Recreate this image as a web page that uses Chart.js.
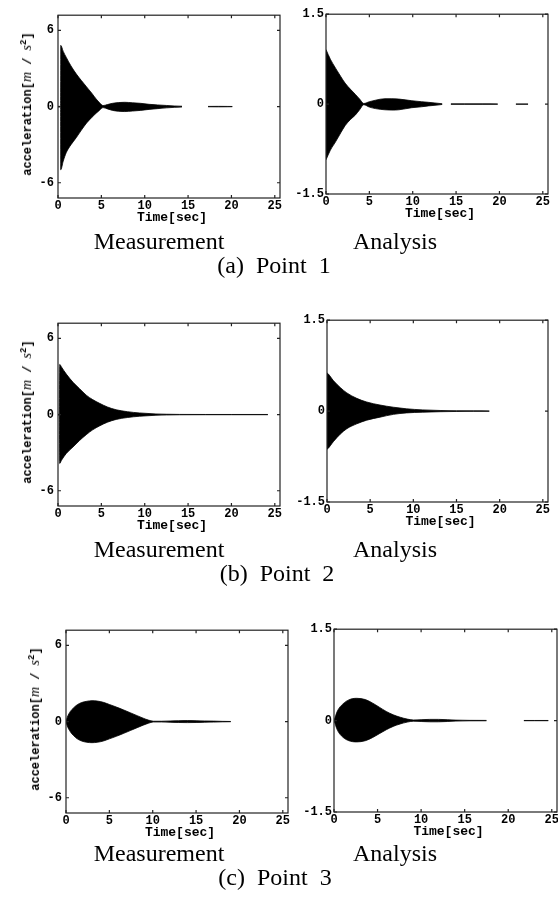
<!DOCTYPE html>
<html lang="en">
<head>
<meta charset="UTF-8">
<title>Acceleration response - Measurement / Analysis</title>
<script src="https://cdn.jsdelivr.net/npm/chart.js"></script>
<style>
  html, body { margin: 0; padding: 0; background: #fff; overflow: hidden; }
  body { width: 558px; height: 897px; position: relative; }
  canvas { position: absolute; }
  .lbl { position: absolute; white-space: pre; transform: translate(-50%, -50%); color: #000; line-height: 1; }
  .cap { font-family: "Liberation Serif", serif; font-size: 24px; }
  .time { font-family: "Liberation Mono", monospace; font-weight: bold; font-size: 13px; }
  .ytitle { font-family: "Liberation Mono", monospace; font-weight: bold; font-size: 12px;
            transform: translate(-50%, -50%) rotate(-90deg); }
  .ytitle i { font-family: "Liberation Serif", serif; font-size: 14px; font-weight: normal; }
  .ytitle sup { font-size: 9px; }
</style>
</head>
<body>
<script>
// tick labels
const xTicks = [0, 5, 10, 15, 20, 25];
const measTicks = [-6, 0, 6];
const anaTicks = [-1.5, 0, 1.5];
const captions = ['(a)  Point  1', '(b)  Point  2', '(c)  Point  3'];

// envelopes of the acceleration records [m/s2]
const p1MeasTime  = [0, 0.3, 0.32, 0.6, 0.96, 1.5, 2.1, 2.7, 3.3, 3.9, 4.4, 4.8, 5.2, 5.7, 6.3, 7.0, 7.7, 8.6, 9.5, 10.5, 11.5, 12.5, 13.4, 14.3, 15.8, 17.3, 18.5, 19.5, 20.1];
const p1MeasUpper = [0.02, 0.02, 4.82, 4.35, 3.87, 3.2, 2.58, 2.05, 1.55, 1.05, 0.6, 0.3, 0.08, 0.16, 0.26, 0.32, 0.34, 0.3, 0.26, 0.18, 0.13, 0.09, 0.05, 0.03, null, 0.015, 0.02, 0.015, 0.01];
const p1MeasLower = [-0.02, -0.02, -4.97, -4.3, -3.61, -3.0, -2.45, -1.85, -1.29, -0.85, -0.52, -0.28, -0.08, -0.18, -0.3, -0.37, -0.39, -0.35, -0.3, -0.22, -0.16, -0.1, -0.06, -0.03, null, -0.015, -0.02, -0.015, -0.01];

const p1AnaTime  = [0, 0.5, 1.1, 1.7, 2.2, 2.8, 3.4, 3.9, 4.35, 5.0, 5.7, 6.8, 7.6, 8.4, 9.9, 11.0, 11.8, 12.8, 13.4, 13.9, 14.4, 16.0, 18.0, 19.8, 20.8, 21.9, 23.3];
const p1AnaUpper = [0.91, 0.75, 0.6, 0.46, 0.35, 0.25, 0.16, 0.08, 0.01, 0.04, 0.065, 0.09, 0.09, 0.084, 0.056, 0.04, 0.03, 0.015, 0.006, null, 0.004, 0.004, 0.004, 0.003, null, 0.002, 0.002];
const p1AnaLower = [-0.93, -0.77, -0.63, -0.48, -0.36, -0.26, -0.18, -0.09, -0.01, -0.05, -0.075, -0.095, -0.1, -0.095, -0.06, -0.045, -0.03, -0.017, -0.006, null, -0.004, -0.004, -0.004, -0.003, null, -0.002, -0.002];

const p2MeasTime  = [0, 0.15, 0.2, 0.4, 0.96, 1.73, 2.49, 3.26, 4.0, 4.79, 5.7, 6.71, 8.0, 9.39, 11.3, 12.5, 14.0, 17.0, 20.0, 24.2];
const p2MeasUpper = [0.02, 0.02, 3.95, 3.75, 3.19, 2.55, 2.04, 1.53, 1.18, 0.89, 0.6, 0.38, 0.23, 0.13, 0.05, 0.03, 0.015, 0.01, 0.01, 0.01];
const p2MeasLower = [-0.02, -0.02, -3.85, -3.6, -3.06, -2.55, -2.04, -1.58, -1.2, -0.89, -0.6, -0.38, -0.23, -0.13, -0.05, -0.03, -0.015, -0.01, -0.01, -0.01];

const p2AnaTime  = [0, 0.1, 0.76, 1.53, 2.3, 3.45, 4.6, 6.14, 7.7, 9.2, 11.1, 13.1, 15.0, 17.0, 18.8];
const p2AnaUpper = [0.63, 0.62, 0.5, 0.39, 0.3, 0.21, 0.15, 0.1, 0.064, 0.038, 0.02, 0.01, 0.006, 0.004, 0.003];
const p2AnaLower = [-0.63, -0.62, -0.5, -0.38, -0.29, -0.21, -0.15, -0.1, -0.054, -0.03, -0.018, -0.01, -0.006, -0.004, -0.003];

const p3MeasTime  = [0, 0.15, 0.5, 0.9, 1.3, 1.8, 2.4, 3.0, 3.6, 4.3, 5.0, 5.8, 6.6, 7.4, 8.2, 8.9, 9.5, 10.1, 11.0, 12.0, 13.0, 14.0, 15.0, 16.0, 17.0, 18.0, 19.0];
const p3MeasUpper = [0, 0.35, 0.8, 1.1, 1.33, 1.5, 1.6, 1.65, 1.62, 1.52, 1.35, 1.15, 0.93, 0.7, 0.47, 0.27, 0.12, 0.03, 0.03, 0.05, 0.07, 0.08, 0.07, 0.05, 0.04, 0.02, 0.01];
const p3MeasLower = [0, -0.35, -0.8, -1.12, -1.36, -1.53, -1.63, -1.66, -1.63, -1.53, -1.36, -1.16, -0.94, -0.71, -0.48, -0.28, -0.13, -0.03, -0.03, -0.05, -0.07, -0.08, -0.07, -0.05, -0.04, -0.02, -0.01];

const p3AnaTime  = [0, 0.4, 1.0, 1.7, 2.6, 3.6, 4.4, 5.2, 6.0, 6.8, 7.6, 8.4, 9.1, 10.0, 11.0, 12.0, 13.0, 14.0, 15.5, 17.5, 19.5, 21.8, 23.0, 24.6];
const p3AnaUpper = [0, 0.16, 0.27, 0.34, 0.366, 0.345, 0.29, 0.22, 0.15, 0.095, 0.055, 0.025, 0.01, 0.015, 0.02, 0.02, 0.015, 0.008, 0.004, 0.003, null, 0.002, 0.002, 0.002];
const p3AnaLower = [0, -0.16, -0.27, -0.33, -0.35, -0.33, -0.28, -0.215, -0.15, -0.095, -0.055, -0.025, -0.01, -0.015, -0.02, -0.02, -0.015, -0.008, -0.004, -0.003, null, -0.002, -0.002, -0.002];

const AXIS_W = 45, PAD_T = 8, PAD_R = 12, AXIS_H = 15;
const tickFont = { family: 'Liberation Mono', size: 12, weight: 'bold' };

// closed frame with small inward ticks on every side
const framePlugin = {
  id: 'frame',
  afterDatasetsDraw(chart) {
    const { ctx, chartArea: a, scales } = chart;
    ctx.save();
    ctx.strokeStyle = '#222';
    ctx.lineWidth = 1.2;
    ctx.strokeRect(a.left, a.top, a.right - a.left, a.bottom - a.top);
    ctx.beginPath();
    scales.x.ticks.forEach(tk => {
      const px = scales.x.getPixelForValue(tk.value);
      ctx.moveTo(px, a.bottom); ctx.lineTo(px, a.bottom - 3);
      ctx.moveTo(px, a.top); ctx.lineTo(px, a.top + 3);
    });
    scales.y.ticks.forEach(tk => {
      const py = scales.y.getPixelForValue(tk.value);
      ctx.moveTo(a.left, py); ctx.lineTo(a.left + 3, py);
      ctx.moveTo(a.right, py); ctx.lineTo(a.right - 3, py);
    });
    ctx.stroke();
    ctx.restore();
  }
};

function addLabel(html, cls, x, y) {
  const d = document.createElement('div');
  d.className = 'lbl ' + cls;
  d.innerHTML = html;
  d.style.left = x + 'px';
  d.style.top = y + 'px';
  document.body.appendChild(d);
}

function drawPanel(box, time, upper, lower, yMax, yTicks, yPad) {
  const cv = document.createElement('canvas');
  cv.width = AXIS_W + box.w + PAD_R;
  cv.height = PAD_T + box.h + AXIS_H;
  cv.style.left = (box.x - AXIS_W) + 'px';
  cv.style.top = (box.y - PAD_T) + 'px';
  document.body.appendChild(cv);

  const up = time.map((t, i) => ({ x: t, y: upper[i] }));
  const lo = time.map((t, i) => ({ x: t, y: lower[i] }));

  new Chart(cv, {
    type: 'line',
    data: {
      datasets: [
        { data: up, borderColor: '#000', borderWidth: 0.8, pointRadius: 0, fill: false },
        { data: lo, borderColor: '#000', borderWidth: 0.8, pointRadius: 0, fill: '-1', backgroundColor: '#000' }
      ]
    },
    options: {
      responsive: false,
      animation: false,
      devicePixelRatio: 1,
      layout: { padding: { top: PAD_T, right: PAD_R, left: 0, bottom: 0 } },
      plugins: { legend: { display: false }, tooltip: { enabled: false } },
      elements: { line: { cubicInterpolationMode: 'monotone' } },
      scales: {
        x: {
          type: 'linear', min: 0, max: 25.6,
          grid: { display: false, drawTicks: false },
          border: { display: false },
          afterBuildTicks: s => { s.ticks = xTicks.map(v => ({ value: v })); },
          afterFit: s => { s.height = AXIS_H; },
          ticks: { padding: 1, color: '#000', font: tickFont, maxRotation: 0, autoSkip: false, callback: v => String(v) }
        },
        y: {
          type: 'linear', min: -yMax, max: yMax,
          grid: { display: false, drawTicks: false },
          border: { display: false },
          afterBuildTicks: s => { s.ticks = yTicks.map(v => ({ value: v })); },
          afterFit: s => { s.width = AXIS_W; },
          ticks: { padding: yPad, color: '#000', font: tickFont, autoSkip: false, callback: v => String(v) }
        }
      }
    },
    plugins: [framePlugin]
  });

  addLabel('Time[sec]', 'time', box.x + box.w / 2 + 3, box.y + box.h + 19);
}

const measBoxes = [
  { x: 58, y: 12, w: 222, h: 186 },
  { x: 58, y: 320, w: 222, h: 186 },
  { x: 66, y: 627, w: 222, h: 186 }
];
const anaBoxes = [
  { x: 326, y: 13, w: 222, h: 181 },
  { x: 327, y: 319, w: 221, h: 183 },
  { x: 334, y: 628, w: 223, h: 184 }
];
const measData = [
  [p1MeasTime, p1MeasUpper, p1MeasLower],
  [p2MeasTime, p2MeasUpper, p2MeasLower],
  [p3MeasTime, p3MeasUpper, p3MeasLower]
];
const anaData = [
  [p1AnaTime, p1AnaUpper, p1AnaLower],
  [p2AnaTime, p2AnaUpper, p2AnaLower],
  [p3AnaTime, p3AnaUpper, p3AnaLower]
];
const capY = [241, 549, 853];
const pointY = [265, 573, 877];
const pointX = [274, 277, 275];

for (let r = 0; r < 3; r++) {
  const mb = measBoxes[r], ab = anaBoxes[r];
  drawPanel(mb, measData[r][0], measData[r][1], measData[r][2], 7.2, measTicks, 4);
  drawPanel(ab, anaData[r][0], anaData[r][1], anaData[r][2], 1.5, anaTicks, 2);
  addLabel('acceleration[<i>m</i> / <i>s</i><sup>2</sup>]', 'ytitle', mb.x - 31, mb.y + mb.h / 2 - 1);
  addLabel('Measurement', 'cap', 159, capY[r]);
  addLabel('Analysis', 'cap', 395, capY[r]);
  addLabel(captions[r], 'cap', pointX[r], pointY[r]);
}
</script>
</body>
</html>
